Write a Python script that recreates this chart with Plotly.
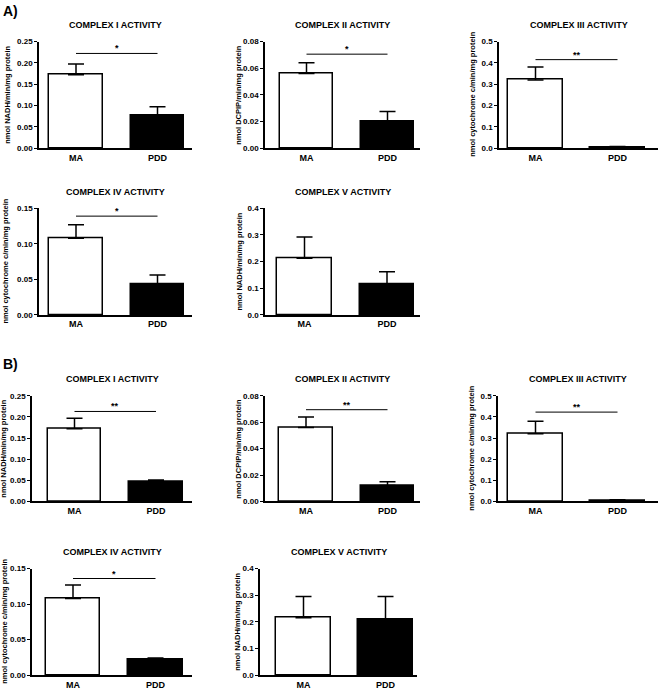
import plotly.graph_objects as go

categories = ["MA", "PDD"]
titles = ["COMPLEX I ACTIVITY", "COMPLEX II ACTIVITY", "COMPLEX III ACTIVITY",
          "COMPLEX IV ACTIVITY", "COMPLEX V ACTIVITY"]
ylabels = ["nmol NADH/min/mg protein", "nmol DCPIP/min/mg protein",
           "nmol cytochrome c/min/mg protein", "nmol cytochrome c/min/mg protein",
           "nmol NADH/min/mg protein"]

A_means = [[0.172, 0.076], [0.056, 0.020], [0.320, 0.005], [0.108, 0.043], [0.213, 0.113]]
A_errs = [[0.025, 0.021], [0.008, 0.0075], [0.060, 0.003], [0.019, 0.013], [0.079, 0.049]]
B_means = [[0.172, 0.047], [0.056, 0.012], [0.320, 0.005], [0.108, 0.022], [0.215, 0.208]]
B_errs = [[0.025, 0.004], [0.008, 0.003], [0.060, 0.003], [0.019, 0.002], [0.080, 0.087]]

A_sig = ["*", "*", "**", "*", ""]
B_sig = ["**", "**", "**", "*", ""]
A_sig_y = [0.222, 0.0705, 0.415, 0.139, None]
B_sig_y = [0.213, 0.0695, 0.423, 0.136, None]

y_max = [0.25, 0.08, 0.5, 0.15, 0.4]
y_dtick = [0.05, 0.02, 0.1, 0.05, 0.1]
y_fmt = [".2f", ".2f", ".1f", ".2f", ".1f"]

W, H = 660, 692
# panel geometry in pixels: left, right, top, bottom, first-bar center, category spacing, y-title x
geom = [
    (39, 192, 38, 146, 76, 81.5, 8),
    (265, 420, 38, 146, 306.5, 81, 239),
    (499, 658, 38, 146, 535.5, 82, 473),
    (39, 192, 207, 315, 76, 81.5, 6),
    (265, 420, 207, 315, 304.5, 82.5, 240),
    (32, 192, 397, 504, 74.5, 81.5, 4),
    (265, 420, 397, 504, 306, 81.5, 239),
    (498, 658, 397, 504, 535.5, 82, 472),
    (32, 192, 572, 680, 73, 82.5, 5),
    (260, 417, 572, 680, 303.5, 82, 238),
]

font = "Liberation Sans, Arial, sans-serif"
fig = go.Figure()
annotations = []
shapes = []

panels = []
for i in range(5):
    panels.append((A_means[i], A_errs[i], A_sig[i], A_sig_y[i], i))
for i in range(5):
    panels.append((B_means[i], B_errs[i], B_sig[i], B_sig_y[i], i))

for k, (means, errs, sig, sig_y, ci) in enumerate(panels):
    n = k + 1
    xa = "x" if n == 1 else f"x{n}"
    ya = "y" if n == 1 else f"y{n}"
    L, R, T, B, c0, s, tx = geom[k]
    fig.add_trace(go.Bar(
        x=[0, 1], y=means, xaxis=xa, yaxis=ya, width=0.66,
        marker=dict(color=["white", "black"], line=dict(color="black", width=1.5)),
        error_y=dict(type="data", array=errs, arrayminus=[0, 0], symmetric=False,
                     color="black", thickness=1.5, width=8),
        showlegend=False,
    ))
    xkey = "xaxis" if n == 1 else f"xaxis{n}"
    ykey = "yaxis" if n == 1 else f"yaxis{n}"
    fig.layout[xkey] = dict(
        domain=[L / W, R / W], anchor=ya,
        range=[(L - c0) / s, (R - c0) / s],
        tickmode="array", tickvals=[0, 1], ticktext=categories,
        showline=True, linecolor="black", linewidth=1.5, ticks="",
        showgrid=False, zeroline=False, fixedrange=True,
        tickfont=dict(family=font, size=9, color="black", weight="bold"),
    )
    fig.layout[ykey] = dict(
        domain=[1 - B / H, 1 - T / H], anchor=xa,
        range=[0, y_max[ci]], dtick=y_dtick[ci], tick0=0, tickformat=y_fmt[ci],
        showline=True, linecolor="black", linewidth=1.5, ticks="outside",
        ticklen=3, tickwidth=1.2, tickcolor="black",
        showgrid=False, zeroline=False, fixedrange=True,
        tickfont=dict(family=font, size=8, color="black", weight="bold"),
    )
    annotations.append(dict(
        text=ylabels[ci], xref="paper", yref="paper", textangle=-90,
        x=tx / W, y=1 - (T + B) / 2 / H, showarrow=False,
        xanchor="center", yanchor="middle",
        font=dict(family=font, size=7.5, color="black", weight="bold"),
    ))
    annotations.append(dict(
        text=titles[ci], xref="paper", yref="paper",
        x=(L + R) / 2 / W, y=1 - (T - 17) / H, showarrow=False,
        xanchor="center", yanchor="middle",
        font=dict(family=font, size=9, color="black", weight="bold"),
    ))
    if sig:
        shapes.append(dict(type="line", xref=xa, yref=ya, x0=0, x1=1,
                           y0=sig_y, y1=sig_y, line=dict(color="black", width=1)))
        annotations.append(dict(
            text=sig, xref=xa, yref=ya, x=0.5, y=sig_y, showarrow=False,
            xanchor="center", yanchor="bottom", yshift=-2,
            font=dict(family=font, size=9, color="black", weight="bold"),
        ))

annotations.append(dict(text="A)", xref="paper", yref="paper", x=1 / W, y=1 - 7 / H,
                        showarrow=False, xanchor="left", yanchor="middle",
                        font=dict(family=font, size=14, color="black", weight="bold")))
annotations.append(dict(text="B)", xref="paper", yref="paper", x=1 / W, y=1 - 365 / H,
                        showarrow=False, xanchor="left", yanchor="middle",
                        font=dict(family=font, size=14, color="black", weight="bold")))

fig.update_layout(
    width=W, height=H, margin=dict(l=0, r=0, t=0, b=0),
    paper_bgcolor="white", plot_bgcolor="white",
    annotations=annotations, shapes=shapes, bargap=0,
)

fig.write_html("out.html", config={"displayModeBar": False},
               post_script="document.body.style.margin='0';document.body.style.overflow='hidden';")
